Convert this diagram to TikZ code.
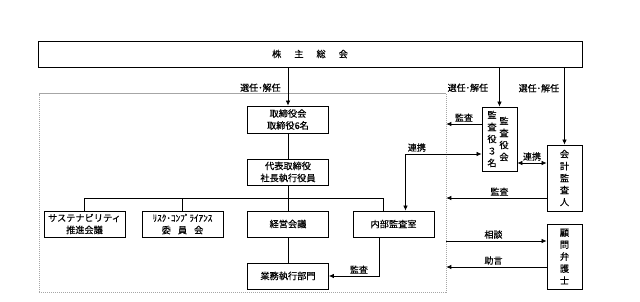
\documentclass[tikz,border=0pt]{standalone}
\usepackage{fontspec}
\setmainfont{Noto Sans CJK JP}[FakeBold=0.3]
\usetikzlibrary{arrows.meta, positioning, calc}

\begin{document}
\begin{tikzpicture}[x=1pt, y=-1pt, >={Latex[length=5pt,width=4.5pt]},
  box/.style={draw, line width=0.8pt, inner sep=0pt, align=center,
    font=\fontsize{9.2}{12}\selectfont},
  orgbox/.style={box, minimum width=81pt, minimum height=26pt},
  tallbox/.style={box, minimum width=35pt},
  vtext/.style={inner sep=0pt, align=center, font=\fontsize{9.2}{12}\selectfont},
  dashedframe/.style={draw=gray!70, dash pattern=on 1.2pt off 0.8pt, line width=0.6pt},
  link/.style={line width=0.7pt},
  lbl/.style={font=\fontsize{9}{10}\selectfont, inner sep=2pt}]
  \useasboundingbox (0,0) rectangle (640,301);

  % shareholders meeting
  \node[box, minimum width=544pt, minimum height=26pt] (soukai) at (310,54)
    {株\hspace{13pt}主\hspace{13pt}総\hspace{13pt}会};

  % company frame
  \node[dashedframe, minimum width=407pt, minimum height=198.5pt] (area)
    at (242.5,192.75) {};

  % board and executives
  \node[box, minimum width=81pt, minimum height=27pt] (torishimari) at (288,119.5)
    {取締役会\\取締役6名};
  \node[orgbox] (daihyo) at (288,172) {代表取締役\\社長執行役員};
  \node[orgbox] (sustain) at (84.5,224) {サステナビリティ\\推進会議};
  \node[orgbox] (risk) at (182.5,224)
    {ﾘｽｸ･ｺﾝﾌﾟﾗｲｱﾝｽ\\委\hspace{7pt}員\hspace{7pt}会};
  \node[orgbox] (keiei) at (288,224) {経営会議};
  \node[orgbox] (naibu) at (393.5,224) {内部監査室};
  \node[orgbox] (gyomu) at (288,276) {業務執行部門};

  % auditors and outside
  \node[tallbox, minimum height=64pt] (kansayaku) at (499.5,139) {};
  \node[vtext] (kansa3) at ([xshift=-7.5pt]kansayaku.center) {監\\査\\役\\３\\名};
  \node[vtext] (kansakai) at ([xshift=4.5pt]kansayaku.center) {監\\査\\役\\会};
  \node[tallbox, minimum height=66pt] (kaikei) at (564.5,178) {会\\計\\監\\査\\人};
  \node[tallbox, minimum height=65pt] (komon) at (564.5,256.5) {顧\\問\\弁\\護\\士};

  % election and dismissal
  \draw[link, ->] (soukai.south -| torishimari.north) --
    node[lbl, pos=0.53, left=5pt] (lsen1) {選任･解任} (torishimari.north);
  \draw[link, ->] (soukai.south -| kansayaku.north) --
    node[lbl, pos=0.52, left=9pt] (lsen2) {選任･解任} (kansayaku.north);
  \draw[link, ->] (soukai.south -| kaikei.north) --
    node[lbl, pos=0.27, left=3pt] (lsen3) {選任･解任} (kaikei.north);

  % chain of command
  \draw[link] (torishimari) -- (daihyo);
  \draw[link] (daihyo) -- (keiei);
  \draw[link] (keiei) -- (gyomu);
  \coordinate (bus) at ([yshift=12pt]keiei.north);
  \draw[link] (sustain.north) |- (bus) -| ([xshift=-10pt]naibu.north);
  \draw[link] (risk.north) -- (risk.north |- bus);

  % audit
  \coordinate (kansaout) at ([yshift=15pt]kansayaku.west);
  \draw[link, ->] (kansaout) -- node[lbl, above] (lkansa1) {監査} (kansaout -| area.east);
  \coordinate (kaikeiout) at ([yshift=-20pt]kaikei.west);
  \draw[link, ->] (kaikeiout) -- node[lbl, above, pos=0.47] (lkansa2) {監査}
    (kaikeiout -| area.east);
  \draw[link, ->] ([xshift=-14.5pt]naibu.south) |- node[lbl, pos=0.7, above] (lkansa3) {監査}
    (gyomu.east);

  % cooperation
  \coordinate (renkei) at ([yshift=-24pt]kansayaku.east);
  \draw[link, <->] (renkei) -- node[lbl, above] (lrenkei1) {連携} (renkei -| kaikei.west);
  \draw[link, <->] ([xshift=12pt]naibu.north) |-
    node[lbl, pos=0.5, above right] (lrenkei2) {連携} ([yshift=-15pt]kansayaku.west);

  % legal counsel
  \coordinate (soudan) at ([yshift=15.5pt]komon.west);
  \draw[link, ->] (soudan -| area.east) -- node[lbl, above, pos=0.47] (lsoudan) {相談} (soudan);
  \coordinate (jogen) at ([yshift=-10.5pt]komon.west);
  \draw[link, ->] (jogen) -- node[lbl, above, pos=0.53] (ljogen) {助言} (jogen -| area.east);
\end{tikzpicture}
\end{document}
